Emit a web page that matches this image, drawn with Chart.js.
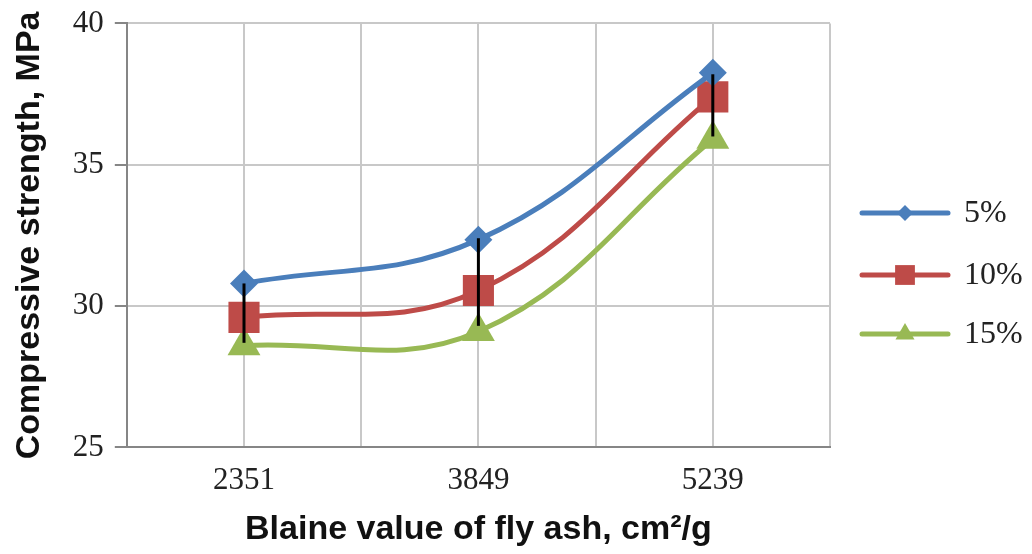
<!DOCTYPE html>
<html>
<head>
<meta charset="utf-8">
<script src="https://cdn.jsdelivr.net/npm/chart.js@4/dist/chart.umd.min.js"></script>
<style>
  body { margin: 0; background: #fff; }
  canvas { display: block; }
</style>
</head>
<body>
<canvas id="canvas" width="1032" height="554"></canvas>
<script>
// Blaine value categories (x) and strengths (y)
const blaine = ['2351', '3849', '5239'];
const xPos = [1, 3, 5];
const yTicks = [25, 30, 35, 40];
const s5 = [30.8, 32.35, 38.25];
const s10 = [29.6, 30.55, 37.4];
const s15 = [28.6, 29.1, 35.9];
// black bars at each category
const errLow = [28.7, 29.3, 36.0];
const errHigh = [30.8, 32.4, 38.2];

const toPts = vals => vals.map((v, i) => ({ x: xPos[i], y: v }));
const serif = '"Liberation Serif", "Times New Roman", serif';
const sans = '"Liberation Sans", Arial, sans-serif';

const errorBars = {
  id: 'errorBars',
  afterDatasetsDraw(chart) {
    const { ctx, scales: { x, y } } = chart;
    ctx.save();
    ctx.strokeStyle = '#000';
    ctx.lineWidth = 3;
    for (let i = 0; i < xPos.length; i++) {
      const px = x.getPixelForValue(xPos[i]);
      ctx.beginPath();
      ctx.moveTo(px, y.getPixelForValue(errHigh[i]));
      ctx.lineTo(px, y.getPixelForValue(errLow[i]));
      ctx.stroke();
    }
    ctx.restore();
  }
};

// legend: line with marker in the middle, like the original
const lineLegend = {
  id: 'lineLegend',
  afterDraw(chart) {
    const ctx = chart.ctx;
    const rows = [213, 275, 334];
    const x0 = 862, x1 = 948;
    ctx.save();
    chart.data.datasets.forEach((ds, i) => {
      const yy = rows[i];
      ctx.strokeStyle = ds.borderColor;
      ctx.lineWidth = 5;
      ctx.lineCap = 'round';
      ctx.beginPath();
      ctx.moveTo(x0, yy);
      ctx.lineTo(x1, yy);
      ctx.stroke();
      ctx.fillStyle = ds.borderColor;
      Chart.helpers.drawPoint(ctx, {
        pointStyle: ds.pointStyle, radius: ds.legendRadius, rotation: 0, borderWidth: 0
      }, (x0 + x1) / 2, yy);
      ctx.fillStyle = '#222';
      ctx.font = '32px ' + serif;
      ctx.textBaseline = 'middle';
      ctx.fillText(ds.label, 964, yy + 1);
    });
    ctx.restore();
  }
};

const mk = (label, data, color, style, radius, legendRadius) => ({
  label: label,
  data: toPts(data),
  borderColor: color,
  backgroundColor: color,
  borderWidth: 5,
  pointStyle: style,
  pointRadius: radius,
  pointHoverRadius: radius,
  pointBorderWidth: 0,
  tension: 0.4,
  legendRadius: legendRadius
});

new Chart(document.getElementById('canvas'), {
  type: 'line',
  data: {
    datasets: [
      mk('5%', s5, '#4A7EBB', 'rectRot', 14, 8),
      mk('10%', s10, '#BE4B48', 'rect', 22, 14),
      mk('15%', s15, '#98B954', 'triangle', 19, 11)
    ]
  },
  options: {
    responsive: false,
    animation: false,
    layout: { padding: { top: 0, right: 202, left: 9, bottom: 9 } },
    plugins: {
      legend: { display: false },
      tooltip: { enabled: false }
    },
    scales: {
      x: {
        type: 'linear',
        min: 0,
        max: 6,
        ticks: {
          stepSize: 1,
          autoSkip: false,
          maxRotation: 0,
          padding: 18,
          color: '#222',
          font: { family: serif, size: 31, lineHeight: 1.0 },
          callback: v => (v % 2 === 1 ? blaine[(v - 1) / 2] : '')
        },
        grid: { color: '#c8c8c8', lineWidth: 2, drawTicks: false },
        border: { color: '#868686', width: 2 },
        title: {
          display: true,
          text: 'Blaine value of fly ash, cm²/g',
          color: '#111',
          font: { family: sans, size: 34, weight: 'bold', lineHeight: 0.9 },
          padding: { top: 0, bottom: 0 }
        }
      },
      y: {
        min: 25,
        max: 40,
        afterBuildTicks: axis => { axis.ticks = yTicks.map(v => ({ value: v })); },
        ticks: {
          padding: 11,
          color: '#222',
          font: { family: serif, size: 31, lineHeight: 0.8 }
        },
        grid: { color: '#c8c8c8', lineWidth: 2, tickLength: 12, tickColor: '#868686' },
        border: { color: '#868686', width: 2 },
        title: {
          display: true,
          text: 'Compressive strength, MPa',
          color: '#111',
          font: { family: sans, size: 34, weight: 'bold' },
          padding: { top: 0, bottom: 12 }
        }
      }
    }
  },
  plugins: [errorBars, lineLegend]
});
</script>
</body>
</html>
